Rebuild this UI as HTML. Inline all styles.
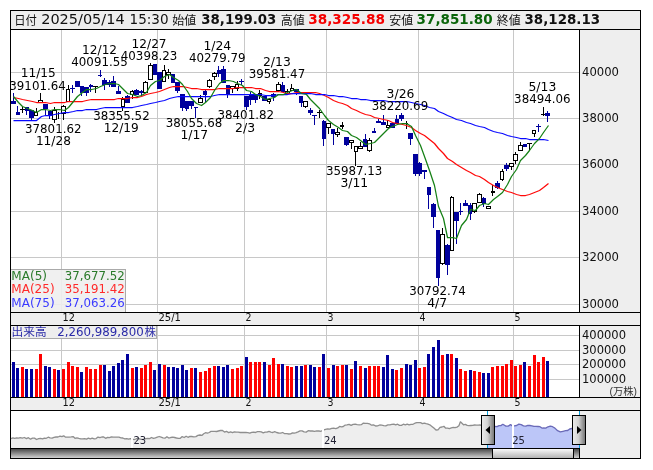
<!DOCTYPE html>
<html lang="ja"><head><meta charset="utf-8"><title>日経平均 チャート</title>
<style>html,body{margin:0;padding:0;background:#fff}svg text{white-space:pre}</style></head>
<body>
<svg width="653" height="470" viewBox="0 0 653 470" style="display:block;font-family:'DejaVu Sans','Liberation Sans','Noto Sans CJK JP',sans-serif">
<defs>
<linearGradient id="gh" x1="0" x2="1" y1="0" y2="0"><stop offset="0" stop-color="#ececec"/><stop offset="0.45" stop-color="#d4d4d4"/><stop offset="1" stop-color="#707070"/></linearGradient>
<linearGradient id="gt" x1="0" x2="0" y1="0" y2="1"><stop offset="0" stop-color="#3a3a3a"/><stop offset="1" stop-color="#d2d2d2"/></linearGradient>
<linearGradient id="gb" x1="0" x2="0" y1="0" y2="1"><stop offset="0" stop-color="#fdfdfd"/><stop offset="1" stop-color="#b0b0b0"/></linearGradient>
<clipPath id="cm"><rect x="11" y="30" width="568" height="282"/></clipPath>
</defs>
<rect width="653" height="470" fill="#fff"/>
<g shape-rendering="crispEdges">
<rect x="11" y="11" width="629" height="18" fill="#eee"/>
<rect x="580" y="30" width="60" height="428" fill="#eee"/>
<rect x="11" y="313" width="629" height="12" fill="#eee"/>
<rect x="11" y="398" width="629" height="12" fill="#eee"/>
<rect x="11" y="72" width="568" height="1" fill="#c8c8c8"/>
<rect x="11" y="118" width="568" height="1" fill="#c8c8c8"/>
<rect x="11" y="164" width="568" height="1" fill="#c8c8c8"/>
<rect x="11" y="211" width="568" height="1" fill="#c8c8c8"/>
<rect x="11" y="257" width="568" height="1" fill="#c8c8c8"/>
<rect x="11" y="304" width="568" height="1" fill="#c8c8c8"/>
<rect x="61" y="30" width="1" height="282" fill="#c8c8c8"/>
<rect x="61" y="326" width="1" height="71" fill="#c8c8c8"/>
<rect x="157" y="30" width="1" height="282" fill="#c8c8c8"/>
<rect x="157" y="326" width="1" height="71" fill="#c8c8c8"/>
<rect x="244" y="30" width="1" height="282" fill="#c8c8c8"/>
<rect x="244" y="326" width="1" height="71" fill="#c8c8c8"/>
<rect x="326" y="30" width="1" height="282" fill="#c8c8c8"/>
<rect x="326" y="326" width="1" height="71" fill="#c8c8c8"/>
<rect x="418" y="30" width="1" height="282" fill="#c8c8c8"/>
<rect x="418" y="326" width="1" height="71" fill="#c8c8c8"/>
<rect x="513" y="30" width="1" height="282" fill="#c8c8c8"/>
<rect x="513" y="326" width="1" height="71" fill="#c8c8c8"/>
<rect x="11" y="335" width="568" height="1" fill="#c8c8c8"/>
<rect x="11" y="350" width="568" height="1" fill="#c8c8c8"/>
<rect x="11" y="364" width="568" height="1" fill="#c8c8c8"/>
<rect x="11" y="379" width="568" height="1" fill="#c8c8c8"/>
</g>
<g clip-path="url(#cm)">
<g shape-rendering="crispEdges">
<rect x="13" y="93" width="1" height="11" fill="#00009c"/>
<rect x="11" y="101" width="5" height="3" fill="#00009c"/>
<rect x="17" y="106" width="1" height="9" fill="#00009c"/>
<rect x="16" y="112" width="4" height="3" fill="#00009c"/>
<rect x="22" y="107" width="1" height="6" fill="#000"/>
<rect x="20" y="109" width="5" height="1" fill="#000"/>
<rect x="26" y="107" width="1" height="8" fill="#00009c"/>
<rect x="25" y="107" width="4" height="4" fill="#00009c"/>
<rect x="31" y="110" width="1" height="10" fill="#00009c"/>
<rect x="29" y="110" width="5" height="8" fill="#00009c"/>
<rect x="36" y="108" width="1" height="8" fill="#000"/>
<rect x="34" y="112" width="4" height="4" fill="#000"/>
<rect x="35" y="113" width="2" height="2" fill="#fff"/>
<rect x="40" y="93" width="1" height="10" fill="#000"/>
<rect x="38" y="100" width="5" height="3" fill="#000"/>
<rect x="39" y="101" width="3" height="1" fill="#fff"/>
<rect x="45" y="104" width="1" height="12" fill="#00009c"/>
<rect x="43" y="104" width="5" height="5" fill="#00009c"/>
<rect x="49" y="111" width="1" height="8" fill="#00009c"/>
<rect x="48" y="111" width="4" height="5" fill="#00009c"/>
<rect x="54" y="107" width="1" height="16" fill="#000"/>
<rect x="52" y="110" width="5" height="10" fill="#000"/>
<rect x="53" y="111" width="3" height="8" fill="#fff"/>
<rect x="58" y="112" width="1" height="7" fill="#000"/>
<rect x="63" y="105" width="1" height="15" fill="#000"/>
<rect x="61" y="106" width="5" height="8" fill="#000"/>
<rect x="62" y="107" width="3" height="6" fill="#fff"/>
<rect x="68" y="85" width="1" height="17" fill="#000"/>
<rect x="66" y="89" width="4" height="13" fill="#000"/>
<rect x="67" y="90" width="2" height="11" fill="#fff"/>
<rect x="72" y="85" width="1" height="8" fill="#00009c"/>
<rect x="70" y="88" width="5" height="1" fill="#00009c"/>
<rect x="77" y="81" width="1" height="6" fill="#00009c"/>
<rect x="75" y="81" width="5" height="6" fill="#00009c"/>
<rect x="81" y="86" width="1" height="10" fill="#00009c"/>
<rect x="80" y="86" width="4" height="7" fill="#00009c"/>
<rect x="86" y="87" width="1" height="9" fill="#00009c"/>
<rect x="84" y="87" width="5" height="6" fill="#00009c"/>
<rect x="90" y="84" width="1" height="8" fill="#00009c"/>
<rect x="89" y="85" width="4" height="2" fill="#00009c"/>
<rect x="95" y="86" width="1" height="7" fill="#000"/>
<rect x="93" y="86" width="5" height="1" fill="#000"/>
<rect x="100" y="70" width="1" height="7" fill="#00009c"/>
<rect x="98" y="75" width="4" height="1" fill="#00009c"/>
<rect x="104" y="78" width="1" height="12" fill="#00009c"/>
<rect x="102" y="80" width="5" height="5" fill="#00009c"/>
<rect x="109" y="80" width="1" height="7" fill="#00009c"/>
<rect x="107" y="82" width="5" height="3" fill="#00009c"/>
<rect x="113" y="76" width="1" height="11" fill="#00009c"/>
<rect x="111" y="81" width="5" height="6" fill="#00009c"/>
<rect x="118" y="86" width="1" height="8" fill="#00009c"/>
<rect x="116" y="91" width="5" height="3" fill="#00009c"/>
<rect x="122" y="97" width="1" height="14" fill="#000"/>
<rect x="121" y="99" width="4" height="8" fill="#000"/>
<rect x="122" y="100" width="2" height="6" fill="#fff"/>
<rect x="127" y="95" width="1" height="8" fill="#00009c"/>
<rect x="125" y="96" width="5" height="7" fill="#00009c"/>
<rect x="132" y="90" width="1" height="9" fill="#000"/>
<rect x="130" y="91" width="4" height="4" fill="#000"/>
<rect x="131" y="92" width="2" height="2" fill="#fff"/>
<rect x="136" y="89" width="1" height="6" fill="#00009c"/>
<rect x="134" y="90" width="5" height="5" fill="#00009c"/>
<rect x="141" y="90" width="1" height="6" fill="#00009c"/>
<rect x="139" y="91" width="5" height="2" fill="#00009c"/>
<rect x="145" y="81" width="1" height="12" fill="#000"/>
<rect x="143" y="82" width="5" height="11" fill="#000"/>
<rect x="144" y="83" width="3" height="9" fill="#fff"/>
<rect x="150" y="63" width="1" height="17" fill="#000"/>
<rect x="148" y="65" width="5" height="15" fill="#000"/>
<rect x="149" y="66" width="3" height="13" fill="#fff"/>
<rect x="154" y="64" width="1" height="11" fill="#00009c"/>
<rect x="153" y="64" width="4" height="11" fill="#00009c"/>
<rect x="159" y="72" width="1" height="17" fill="#00009c"/>
<rect x="157" y="72" width="5" height="17" fill="#00009c"/>
<rect x="164" y="65" width="1" height="17" fill="#000"/>
<rect x="162" y="70" width="4" height="12" fill="#000"/>
<rect x="163" y="71" width="2" height="10" fill="#fff"/>
<rect x="168" y="69" width="1" height="10" fill="#000"/>
<rect x="166" y="72" width="5" height="3" fill="#000"/>
<rect x="167" y="73" width="3" height="1" fill="#fff"/>
<rect x="173" y="74" width="1" height="9" fill="#00009c"/>
<rect x="171" y="74" width="4" height="9" fill="#00009c"/>
<rect x="177" y="82" width="1" height="11" fill="#00009c"/>
<rect x="175" y="82" width="5" height="9" fill="#00009c"/>
<rect x="182" y="94" width="1" height="17" fill="#00009c"/>
<rect x="180" y="94" width="5" height="14" fill="#00009c"/>
<rect x="186" y="101" width="1" height="10" fill="#00009c"/>
<rect x="185" y="101" width="4" height="8" fill="#00009c"/>
<rect x="191" y="101" width="1" height="8" fill="#00009c"/>
<rect x="189" y="101" width="5" height="5" fill="#00009c"/>
<rect x="195" y="107" width="1" height="11" fill="#00009c"/>
<rect x="194" y="107" width="4" height="1" fill="#00009c"/>
<rect x="200" y="95" width="1" height="8" fill="#000"/>
<rect x="198" y="98" width="5" height="5" fill="#000"/>
<rect x="199" y="99" width="3" height="3" fill="#fff"/>
<rect x="205" y="89" width="1" height="13" fill="#00009c"/>
<rect x="203" y="91" width="4" height="4" fill="#00009c"/>
<rect x="209" y="79" width="1" height="9" fill="#000"/>
<rect x="207" y="80" width="5" height="7" fill="#000"/>
<rect x="208" y="81" width="3" height="5" fill="#fff"/>
<rect x="214" y="72" width="1" height="8" fill="#000"/>
<rect x="212" y="73" width="5" height="4" fill="#000"/>
<rect x="213" y="74" width="3" height="2" fill="#fff"/>
<rect x="218" y="66" width="1" height="11" fill="#00009c"/>
<rect x="217" y="70" width="4" height="4" fill="#00009c"/>
<rect x="223" y="66" width="1" height="17" fill="#00009c"/>
<rect x="221" y="69" width="5" height="14" fill="#00009c"/>
<rect x="227" y="85" width="1" height="13" fill="#00009c"/>
<rect x="226" y="85" width="4" height="10" fill="#00009c"/>
<rect x="232" y="86" width="1" height="7" fill="#000"/>
<rect x="230" y="86" width="5" height="3" fill="#000"/>
<rect x="231" y="87" width="3" height="1" fill="#fff"/>
<rect x="237" y="81" width="1" height="10" fill="#000"/>
<rect x="235" y="84" width="4" height="5" fill="#000"/>
<rect x="236" y="85" width="2" height="3" fill="#fff"/>
<rect x="241" y="79" width="1" height="6" fill="#00009c"/>
<rect x="239" y="81" width="5" height="1" fill="#00009c"/>
<rect x="246" y="96" width="1" height="14" fill="#00009c"/>
<rect x="244" y="96" width="5" height="11" fill="#00009c"/>
<rect x="250" y="92" width="1" height="13" fill="#00009c"/>
<rect x="249" y="94" width="4" height="6" fill="#00009c"/>
<rect x="255" y="95" width="1" height="8" fill="#00009c"/>
<rect x="253" y="95" width="5" height="5" fill="#00009c"/>
<rect x="259" y="90" width="1" height="9" fill="#000"/>
<rect x="258" y="93" width="4" height="3" fill="#000"/>
<rect x="259" y="94" width="2" height="1" fill="#fff"/>
<rect x="264" y="96" width="1" height="5" fill="#00009c"/>
<rect x="262" y="96" width="5" height="5" fill="#00009c"/>
<rect x="269" y="98" width="1" height="6" fill="#000"/>
<rect x="267" y="99" width="4" height="3" fill="#000"/>
<rect x="268" y="100" width="2" height="1" fill="#fff"/>
<rect x="273" y="93" width="1" height="8" fill="#00009c"/>
<rect x="271" y="94" width="5" height="3" fill="#00009c"/>
<rect x="278" y="82" width="1" height="9" fill="#000"/>
<rect x="276" y="84" width="5" height="7" fill="#000"/>
<rect x="277" y="85" width="3" height="5" fill="#fff"/>
<rect x="282" y="82" width="1" height="10" fill="#00009c"/>
<rect x="281" y="85" width="4" height="7" fill="#00009c"/>
<rect x="287" y="89" width="1" height="5" fill="#000"/>
<rect x="285" y="91" width="5" height="3" fill="#000"/>
<rect x="286" y="92" width="3" height="1" fill="#fff"/>
<rect x="291" y="84" width="1" height="7" fill="#000"/>
<rect x="290" y="88" width="4" height="3" fill="#000"/>
<rect x="291" y="89" width="2" height="1" fill="#fff"/>
<rect x="296" y="89" width="1" height="6" fill="#00009c"/>
<rect x="294" y="89" width="5" height="3" fill="#00009c"/>
<rect x="301" y="96" width="1" height="11" fill="#00009c"/>
<rect x="299" y="96" width="4" height="7" fill="#00009c"/>
<rect x="305" y="101" width="1" height="7" fill="#000"/>
<rect x="303" y="101" width="5" height="6" fill="#000"/>
<rect x="304" y="102" width="3" height="4" fill="#fff"/>
<rect x="310" y="108" width="1" height="7" fill="#00009c"/>
<rect x="308" y="110" width="5" height="3" fill="#00009c"/>
<rect x="314" y="115" width="1" height="10" fill="#00009c"/>
<rect x="312" y="115" width="5" height="1" fill="#00009c"/>
<rect x="319" y="110" width="1" height="8" fill="#000"/>
<rect x="317" y="112" width="5" height="1" fill="#000"/>
<rect x="323" y="120" width="1" height="26" fill="#00009c"/>
<rect x="322" y="121" width="4" height="18" fill="#00009c"/>
<rect x="328" y="123" width="1" height="11" fill="#000"/>
<rect x="326" y="123" width="5" height="5" fill="#000"/>
<rect x="327" y="124" width="3" height="3" fill="#fff"/>
<rect x="333" y="129" width="1" height="16" fill="#00009c"/>
<rect x="331" y="129" width="4" height="5" fill="#00009c"/>
<rect x="337" y="128" width="1" height="9" fill="#000"/>
<rect x="335" y="132" width="5" height="3" fill="#000"/>
<rect x="336" y="133" width="3" height="1" fill="#fff"/>
<rect x="342" y="122" width="1" height="7" fill="#000"/>
<rect x="340" y="125" width="4" height="2" fill="#000"/>
<rect x="346" y="137" width="1" height="9" fill="#00009c"/>
<rect x="344" y="137" width="5" height="8" fill="#00009c"/>
<rect x="351" y="140" width="1" height="9" fill="#000"/>
<rect x="349" y="140" width="5" height="3" fill="#000"/>
<rect x="350" y="141" width="3" height="1" fill="#fff"/>
<rect x="355" y="146" width="1" height="20" fill="#000"/>
<rect x="354" y="146" width="4" height="6" fill="#000"/>
<rect x="355" y="147" width="2" height="4" fill="#fff"/>
<rect x="360" y="142" width="1" height="7" fill="#000"/>
<rect x="358" y="146" width="5" height="3" fill="#000"/>
<rect x="359" y="147" width="3" height="1" fill="#fff"/>
<rect x="365" y="134" width="1" height="13" fill="#00009c"/>
<rect x="363" y="139" width="4" height="8" fill="#00009c"/>
<rect x="369" y="138" width="1" height="14" fill="#000"/>
<rect x="367" y="140" width="5" height="11" fill="#000"/>
<rect x="368" y="141" width="3" height="9" fill="#fff"/>
<rect x="374" y="128" width="1" height="5" fill="#00009c"/>
<rect x="372" y="131" width="4" height="2" fill="#00009c"/>
<rect x="378" y="119" width="1" height="4" fill="#00009c"/>
<rect x="376" y="121" width="5" height="2" fill="#00009c"/>
<rect x="383" y="115" width="1" height="10" fill="#00009c"/>
<rect x="381" y="122" width="5" height="3" fill="#00009c"/>
<rect x="387" y="120" width="1" height="8" fill="#000"/>
<rect x="386" y="125" width="4" height="3" fill="#000"/>
<rect x="387" y="126" width="2" height="1" fill="#fff"/>
<rect x="392" y="123" width="1" height="5" fill="#00009c"/>
<rect x="390" y="123" width="5" height="5" fill="#00009c"/>
<rect x="396" y="115" width="1" height="9" fill="#00009c"/>
<rect x="395" y="119" width="4" height="5" fill="#00009c"/>
<rect x="401" y="113" width="1" height="8" fill="#00009c"/>
<rect x="399" y="115" width="5" height="4" fill="#00009c"/>
<rect x="406" y="121" width="1" height="8" fill="#000"/>
<rect x="404" y="123" width="4" height="1" fill="#000"/>
<rect x="410" y="133" width="1" height="12" fill="#00009c"/>
<rect x="408" y="133" width="5" height="6" fill="#00009c"/>
<rect x="415" y="154" width="1" height="22" fill="#00009c"/>
<rect x="413" y="154" width="5" height="20" fill="#00009c"/>
<rect x="419" y="162" width="1" height="14" fill="#00009c"/>
<rect x="418" y="163" width="4" height="11" fill="#00009c"/>
<rect x="424" y="170" width="1" height="9" fill="#00009c"/>
<rect x="422" y="170" width="5" height="2" fill="#00009c"/>
<rect x="428" y="187" width="1" height="22" fill="#00009c"/>
<rect x="427" y="187" width="4" height="8" fill="#00009c"/>
<rect x="433" y="203" width="1" height="25" fill="#00009c"/>
<rect x="431" y="204" width="5" height="13" fill="#00009c"/>
<rect x="438" y="230" width="1" height="56" fill="#00009c"/>
<rect x="436" y="230" width="4" height="48" fill="#00009c"/>
<rect x="442" y="228" width="1" height="37" fill="#000"/>
<rect x="440" y="234" width="5" height="30" fill="#000"/>
<rect x="441" y="235" width="3" height="28" fill="#fff"/>
<rect x="447" y="244" width="1" height="31" fill="#00009c"/>
<rect x="445" y="245" width="5" height="20" fill="#00009c"/>
<rect x="451" y="196" width="1" height="55" fill="#000"/>
<rect x="450" y="197" width="4" height="54" fill="#000"/>
<rect x="451" y="198" width="2" height="52" fill="#fff"/>
<rect x="456" y="212" width="1" height="32" fill="#00009c"/>
<rect x="454" y="212" width="5" height="9" fill="#00009c"/>
<rect x="460" y="203" width="1" height="12" fill="#00009c"/>
<rect x="459" y="211" width="4" height="1" fill="#00009c"/>
<rect x="465" y="200" width="1" height="6" fill="#00009c"/>
<rect x="463" y="203" width="5" height="3" fill="#00009c"/>
<rect x="470" y="203" width="1" height="17" fill="#00009c"/>
<rect x="468" y="205" width="4" height="9" fill="#00009c"/>
<rect x="474" y="203" width="1" height="10" fill="#000"/>
<rect x="472" y="203" width="5" height="9" fill="#000"/>
<rect x="473" y="204" width="3" height="7" fill="#fff"/>
<rect x="479" y="193" width="1" height="10" fill="#000"/>
<rect x="477" y="194" width="5" height="9" fill="#000"/>
<rect x="478" y="195" width="3" height="7" fill="#fff"/>
<rect x="483" y="197" width="1" height="10" fill="#00009c"/>
<rect x="482" y="198" width="4" height="6" fill="#00009c"/>
<rect x="488" y="206" width="1" height="3" fill="#000"/>
<rect x="486" y="206" width="5" height="3" fill="#000"/>
<rect x="487" y="207" width="3" height="1" fill="#fff"/>
<rect x="492" y="185" width="1" height="11" fill="#000"/>
<rect x="491" y="191" width="4" height="2" fill="#000"/>
<rect x="497" y="181" width="1" height="8" fill="#00009c"/>
<rect x="495" y="183" width="5" height="5" fill="#00009c"/>
<rect x="502" y="169" width="1" height="12" fill="#000"/>
<rect x="500" y="171" width="4" height="9" fill="#000"/>
<rect x="501" y="172" width="2" height="7" fill="#fff"/>
<rect x="506" y="163" width="1" height="8" fill="#00009c"/>
<rect x="504" y="165" width="5" height="4" fill="#00009c"/>
<rect x="511" y="163" width="1" height="7" fill="#000"/>
<rect x="509" y="163" width="5" height="4" fill="#000"/>
<rect x="510" y="164" width="3" height="2" fill="#fff"/>
<rect x="515" y="152" width="1" height="12" fill="#000"/>
<rect x="513" y="154" width="5" height="7" fill="#000"/>
<rect x="514" y="155" width="3" height="5" fill="#fff"/>
<rect x="520" y="142" width="1" height="9" fill="#000"/>
<rect x="518" y="145" width="5" height="6" fill="#000"/>
<rect x="519" y="146" width="3" height="4" fill="#fff"/>
<rect x="524" y="144" width="1" height="3" fill="#00009c"/>
<rect x="523" y="144" width="4" height="3" fill="#00009c"/>
<rect x="529" y="143" width="1" height="8" fill="#000"/>
<rect x="527" y="143" width="5" height="1" fill="#000"/>
<rect x="534" y="130" width="1" height="7" fill="#000"/>
<rect x="532" y="130" width="4" height="4" fill="#000"/>
<rect x="533" y="131" width="2" height="2" fill="#fff"/>
<rect x="538" y="124" width="1" height="8" fill="#00009c"/>
<rect x="536" y="126" width="5" height="1" fill="#00009c"/>
<rect x="543" y="107" width="1" height="9" fill="#000"/>
<rect x="541" y="114" width="4" height="1" fill="#000"/>
<rect x="547" y="111" width="1" height="11" fill="#00009c"/>
<rect x="545" y="113" width="5" height="3" fill="#00009c"/>
</g>
<polyline points="13.5,97.5 18.5,98.5 22.5,99.5 27.5,100.5 32.5,101.5 36.5,102.5 41.5,102.5 45.5,102.5 50.5,103.5 54.5,102.5 59.5,102.5 64.5,102.5 68.5,101.5 73.5,101.5 77.5,101.5 82.5,101.5 86.5,100.5 91.5,99.5 96.5,99.5 100.5,99.5 105.5,99.5 109.5,99.5 114.5,99.5 118.5,98.5 123.5,98.5 127.5,98.5 132.5,97.5 137.5,97.5 141.5,96.5 146.5,94.5 150.5,93.5 155.5,92.5 159.5,91.5 164.5,89.5 169.5,87.5 173.5,86.5 178.5,86.5 182.5,86.5 187.5,87.5 191.5,88.5 196.5,88.5 201.5,89.5 205.5,89.5 210.5,89.5 214.5,89.5 219.5,88.5 223.5,88.5 228.5,88.5 233.5,88.5 237.5,87.5 242.5,87.5 246.5,87.5 251.5,87.5 255.5,88.5 260.5,88.5 265.5,90.5 269.5,91.5 274.5,91.5 278.5,91.5 283.5,92.5 287.5,93.5 292.5,93.5 296.5,92.5 301.5,92.5 306.5,92.5 310.5,92.5 315.5,92.5 319.5,93.5 324.5,95.5 328.5,97.5 333.5,100.5 338.5,102.5 342.5,103.5 347.5,105.5 351.5,108.5 356.5,110.5 360.5,112.5 365.5,114.5 370.5,115.5 374.5,117.5 379.5,118.5 383.5,119.5 388.5,120.5 392.5,122.5 397.5,123.5 402.5,124.5 406.5,125.5 411.5,127.5 415.5,130.5 420.5,133.5 424.5,135.5 429.5,139.5 434.5,143.5 438.5,148.5 443.5,153.5 447.5,158.5 452.5,161.5 456.5,164.5 461.5,167.5 466.5,170.5 470.5,172.5 475.5,175.5 479.5,176.5 484.5,179.5 488.5,182.5 493.5,185.5 497.5,187.5 502.5,189.5 507.5,191.5 511.5,192.5 516.5,194.5 520.5,195.5 525.5,195.5 529.5,194.5 534.5,192.5 539.5,190.5 543.5,187.5 548.5,183.5" fill="none" stroke="#ff0808" stroke-width="1.25" stroke-linejoin="round"/>
<polyline points="13.5,120.5 18.5,120.5 22.5,120.5 27.5,120.5 32.5,120.5 36.5,120.5 41.5,116.5 45.5,115.5 50.5,115.5 54.5,114.5 59.5,113.5 64.5,112.5 68.5,112.5 73.5,111.5 77.5,110.5 82.5,110.5 86.5,109.5 91.5,109.5 96.5,109.5 100.5,108.5 105.5,107.5 109.5,107.5 114.5,107.5 118.5,107.5 123.5,107.5 127.5,107.5 132.5,107.5 137.5,106.5 141.5,105.5 146.5,104.5 150.5,103.5 155.5,102.5 159.5,101.5 164.5,100.5 169.5,98.5 173.5,97.5 178.5,96.5 182.5,96.5 187.5,96.5 191.5,96.5 196.5,96.5 201.5,96.5 205.5,96.5 210.5,96.5 214.5,95.5 219.5,94.5 223.5,94.5 228.5,94.5 233.5,94.5 237.5,94.5 242.5,94.5 246.5,94.5 251.5,94.5 255.5,94.5 260.5,94.5 265.5,95.5 269.5,95.5 274.5,95.5 278.5,94.5 283.5,94.5 287.5,94.5 292.5,93.5 297.5,93.5 301.5,93.5 306.5,93.5 310.5,93.5 315.5,94.5 319.5,94.5 324.5,94.5 328.5,95.5 333.5,95.5 338.5,96.5 342.5,96.5 347.5,97.5 351.5,98.5 356.5,98.5 360.5,99.5 365.5,99.5 370.5,100.5 374.5,100.5 379.5,100.5 383.5,100.5 388.5,101.5 392.5,101.5 397.5,101.5 402.5,101.5 406.5,101.5 411.5,102.5 415.5,103.5 420.5,104.5 424.5,105.5 429.5,107.5 434.5,108.5 438.5,111.5 443.5,113.5 447.5,115.5 452.5,117.5 456.5,119.5 461.5,120.5 466.5,122.5 470.5,123.5 475.5,125.5 479.5,126.5 484.5,127.5 488.5,129.5 493.5,131.5 497.5,132.5 502.5,133.5 507.5,135.5 511.5,136.5 516.5,137.5 520.5,138.5 525.5,138.5 529.5,139.5 534.5,139.5 539.5,139.5 543.5,139.5 548.5,140.5" fill="none" stroke="#0808ff" stroke-width="1.25" stroke-linejoin="round"/>
<polyline points="13.5,96.5 18.5,102.5 22.5,106.5 27.5,108.5 32.5,110.5 36.5,112.5 41.5,109.5 45.5,109.5 50.5,110.5 54.5,109.5 59.5,109.5 64.5,110.5 68.5,107.5 73.5,101.5 77.5,96.5 82.5,92.5 86.5,89.5 91.5,89.5 96.5,88.5 100.5,86.5 105.5,84.5 109.5,83.5 114.5,83.5 118.5,84.5 123.5,89.5 127.5,93.5 132.5,94.5 137.5,96.5 141.5,95.5 146.5,92.5 150.5,85.5 155.5,81.5 159.5,80.5 164.5,76.5 169.5,74.5 173.5,77.5 178.5,80.5 182.5,84.5 187.5,91.5 191.5,98.5 196.5,103.5 201.5,105.5 205.5,102.5 210.5,97.5 214.5,90.5 219.5,83.5 223.5,80.5 228.5,80.5 233.5,81.5 237.5,83.5 242.5,85.5 246.5,90.5 251.5,91.5 255.5,94.5 260.5,96.5 265.5,99.5 269.5,98.5 274.5,97.5 278.5,94.5 283.5,94.5 287.5,92.5 292.5,90.5 296.5,89.5 301.5,93.5 306.5,94.5 310.5,99.5 315.5,104.5 319.5,108.5 324.5,115.5 328.5,120.5 333.5,124.5 338.5,127.5 342.5,130.5 347.5,131.5 351.5,135.5 356.5,137.5 360.5,140.5 365.5,144.5 370.5,143.5 374.5,142.5 379.5,137.5 383.5,133.5 388.5,128.5 392.5,126.5 397.5,124.5 402.5,123.5 406.5,123.5 411.5,126.5 415.5,135.5 420.5,145.5 424.5,156.5 429.5,170.5 434.5,185.5 438.5,206.5 443.5,218.5 447.5,237.5 452.5,237.5 456.5,238.5 461.5,225.5 466.5,219.5 470.5,209.5 475.5,210.5 479.5,205.5 484.5,203.5 488.5,204.5 493.5,199.5 497.5,196.5 502.5,192.5 507.5,184.5 511.5,176.5 516.5,169.5 520.5,160.5 525.5,155.5 529.5,150.5 534.5,143.5 539.5,138.5 543.5,132.5 548.5,125.5" fill="none" stroke="#158015" stroke-width="1.25" stroke-linejoin="round"/>
</g>
<g shape-rendering="crispEdges">
<rect x="12" y="362" width="3" height="35" fill="#00009c"/>
<rect x="16" y="368" width="3" height="29" fill="#00009c"/>
<rect x="21" y="367" width="3" height="30" fill="#ff0000"/>
<rect x="25" y="369" width="3" height="28" fill="#00009c"/>
<rect x="30" y="369" width="3" height="28" fill="#00009c"/>
<rect x="35" y="369" width="3" height="28" fill="#ff0000"/>
<rect x="39" y="354" width="3" height="43" fill="#ff0000"/>
<rect x="44" y="366" width="3" height="31" fill="#00009c"/>
<rect x="48" y="367" width="3" height="30" fill="#00009c"/>
<rect x="53" y="369" width="3" height="28" fill="#ff0000"/>
<rect x="57" y="370" width="3" height="27" fill="#00009c"/>
<rect x="62" y="369" width="3" height="28" fill="#ff0000"/>
<rect x="67" y="362" width="3" height="35" fill="#ff0000"/>
<rect x="71" y="366" width="3" height="31" fill="#ff0000"/>
<rect x="76" y="367" width="3" height="30" fill="#ff0000"/>
<rect x="80" y="372" width="3" height="25" fill="#00009c"/>
<rect x="85" y="367" width="3" height="30" fill="#ff0000"/>
<rect x="89" y="369" width="3" height="28" fill="#ff0000"/>
<rect x="94" y="369" width="3" height="28" fill="#ff0000"/>
<rect x="99" y="365" width="3" height="32" fill="#ff0000"/>
<rect x="103" y="365" width="3" height="32" fill="#00009c"/>
<rect x="108" y="371" width="3" height="26" fill="#00009c"/>
<rect x="112" y="366" width="3" height="31" fill="#00009c"/>
<rect x="117" y="363" width="3" height="34" fill="#00009c"/>
<rect x="121" y="360" width="3" height="37" fill="#00009c"/>
<rect x="126" y="354" width="3" height="43" fill="#00009c"/>
<rect x="131" y="368" width="3" height="29" fill="#ff0000"/>
<rect x="135" y="367" width="3" height="30" fill="#00009c"/>
<rect x="140" y="368" width="3" height="29" fill="#ff0000"/>
<rect x="144" y="365" width="3" height="32" fill="#ff0000"/>
<rect x="149" y="362" width="3" height="35" fill="#ff0000"/>
<rect x="153" y="370" width="3" height="27" fill="#00009c"/>
<rect x="158" y="364" width="3" height="33" fill="#00009c"/>
<rect x="163" y="365" width="3" height="32" fill="#ff0000"/>
<rect x="167" y="367" width="3" height="30" fill="#00009c"/>
<rect x="172" y="367" width="3" height="30" fill="#00009c"/>
<rect x="176" y="368" width="3" height="29" fill="#00009c"/>
<rect x="181" y="365" width="3" height="32" fill="#00009c"/>
<rect x="185" y="370" width="3" height="27" fill="#00009c"/>
<rect x="190" y="368" width="3" height="29" fill="#ff0000"/>
<rect x="194" y="368" width="3" height="29" fill="#00009c"/>
<rect x="199" y="372" width="3" height="25" fill="#ff0000"/>
<rect x="204" y="371" width="3" height="26" fill="#ff0000"/>
<rect x="208" y="368" width="3" height="29" fill="#ff0000"/>
<rect x="213" y="366" width="3" height="31" fill="#ff0000"/>
<rect x="217" y="366" width="3" height="31" fill="#00009c"/>
<rect x="222" y="367" width="3" height="30" fill="#00009c"/>
<rect x="226" y="365" width="3" height="32" fill="#00009c"/>
<rect x="231" y="369" width="3" height="28" fill="#ff0000"/>
<rect x="236" y="368" width="3" height="29" fill="#ff0000"/>
<rect x="240" y="366" width="3" height="31" fill="#ff0000"/>
<rect x="245" y="357" width="3" height="40" fill="#00009c"/>
<rect x="249" y="362" width="3" height="35" fill="#ff0000"/>
<rect x="254" y="362" width="3" height="35" fill="#ff0000"/>
<rect x="258" y="362" width="3" height="35" fill="#ff0000"/>
<rect x="263" y="362" width="3" height="35" fill="#00009c"/>
<rect x="268" y="365" width="3" height="32" fill="#ff0000"/>
<rect x="272" y="358" width="3" height="39" fill="#ff0000"/>
<rect x="277" y="364" width="3" height="33" fill="#ff0000"/>
<rect x="281" y="364" width="3" height="33" fill="#00009c"/>
<rect x="286" y="366" width="3" height="31" fill="#ff0000"/>
<rect x="290" y="367" width="3" height="30" fill="#ff0000"/>
<rect x="295" y="366" width="3" height="31" fill="#00009c"/>
<rect x="300" y="366" width="3" height="31" fill="#00009c"/>
<rect x="304" y="365" width="3" height="32" fill="#ff0000"/>
<rect x="309" y="365" width="3" height="32" fill="#00009c"/>
<rect x="313" y="367" width="3" height="30" fill="#00009c"/>
<rect x="318" y="367" width="3" height="30" fill="#ff0000"/>
<rect x="322" y="354" width="3" height="43" fill="#00009c"/>
<rect x="327" y="368" width="3" height="29" fill="#ff0000"/>
<rect x="332" y="365" width="3" height="32" fill="#00009c"/>
<rect x="336" y="366" width="3" height="31" fill="#ff0000"/>
<rect x="341" y="365" width="3" height="32" fill="#ff0000"/>
<rect x="345" y="365" width="3" height="32" fill="#00009c"/>
<rect x="350" y="369" width="3" height="28" fill="#ff0000"/>
<rect x="354" y="361" width="3" height="36" fill="#00009c"/>
<rect x="359" y="366" width="3" height="31" fill="#ff0000"/>
<rect x="364" y="368" width="3" height="29" fill="#00009c"/>
<rect x="368" y="366" width="3" height="31" fill="#ff0000"/>
<rect x="373" y="366" width="3" height="31" fill="#ff0000"/>
<rect x="377" y="366" width="3" height="31" fill="#ff0000"/>
<rect x="382" y="367" width="3" height="30" fill="#00009c"/>
<rect x="386" y="355" width="3" height="42" fill="#00009c"/>
<rect x="391" y="369" width="3" height="28" fill="#00009c"/>
<rect x="395" y="370" width="3" height="27" fill="#ff0000"/>
<rect x="400" y="368" width="3" height="29" fill="#ff0000"/>
<rect x="405" y="364" width="3" height="33" fill="#00009c"/>
<rect x="409" y="365" width="3" height="32" fill="#00009c"/>
<rect x="414" y="360" width="3" height="37" fill="#00009c"/>
<rect x="418" y="368" width="3" height="29" fill="#ff0000"/>
<rect x="423" y="367" width="3" height="30" fill="#ff0000"/>
<rect x="427" y="354" width="3" height="43" fill="#00009c"/>
<rect x="432" y="347" width="3" height="50" fill="#00009c"/>
<rect x="437" y="340" width="3" height="57" fill="#00009c"/>
<rect x="441" y="355" width="3" height="42" fill="#ff0000"/>
<rect x="446" y="354" width="3" height="43" fill="#00009c"/>
<rect x="450" y="354" width="3" height="43" fill="#ff0000"/>
<rect x="455" y="358" width="3" height="39" fill="#00009c"/>
<rect x="459" y="369" width="3" height="28" fill="#ff0000"/>
<rect x="464" y="371" width="3" height="26" fill="#ff0000"/>
<rect x="469" y="370" width="3" height="27" fill="#00009c"/>
<rect x="473" y="371" width="3" height="26" fill="#ff0000"/>
<rect x="478" y="372" width="3" height="25" fill="#ff0000"/>
<rect x="482" y="373" width="3" height="24" fill="#00009c"/>
<rect x="487" y="373" width="3" height="24" fill="#00009c"/>
<rect x="491" y="367" width="3" height="30" fill="#ff0000"/>
<rect x="496" y="366" width="3" height="31" fill="#ff0000"/>
<rect x="501" y="366" width="3" height="31" fill="#ff0000"/>
<rect x="505" y="364" width="3" height="33" fill="#ff0000"/>
<rect x="510" y="360" width="3" height="37" fill="#ff0000"/>
<rect x="514" y="366" width="3" height="31" fill="#ff0000"/>
<rect x="519" y="365" width="3" height="32" fill="#ff0000"/>
<rect x="523" y="362" width="3" height="35" fill="#00009c"/>
<rect x="528" y="366" width="3" height="31" fill="#ff0000"/>
<rect x="533" y="355" width="3" height="42" fill="#ff0000"/>
<rect x="537" y="362" width="3" height="35" fill="#ff0000"/>
<rect x="542" y="357" width="3" height="40" fill="#ff0000"/>
<rect x="546" y="361" width="3" height="36" fill="#00009c"/>
</g>
<text x="20.8" y="77.0" font-size="12" textLength="35.0" lengthAdjust="spacingAndGlyphs" fill="#000">11/15</text>
<text x="9.3" y="89.5" font-size="12" textLength="56.5" lengthAdjust="spacingAndGlyphs" fill="#000">39101.64</text>
<text x="82.1" y="54.4" font-size="12" textLength="35.0" lengthAdjust="spacingAndGlyphs" fill="#000">12/12</text>
<text x="71.3" y="66.0" font-size="12" textLength="56.5" lengthAdjust="spacingAndGlyphs" fill="#000">40091.55</text>
<text x="131.6" y="47.5" font-size="12" textLength="35.0" lengthAdjust="spacingAndGlyphs" fill="#000">12/27</text>
<text x="120.8" y="59.5" font-size="12" textLength="56.5" lengthAdjust="spacingAndGlyphs" fill="#000">40398.23</text>
<text x="203.4" y="50.0" font-size="12" textLength="27.8" lengthAdjust="spacingAndGlyphs" fill="#000">1/24</text>
<text x="189.0" y="62.3" font-size="12" textLength="56.5" lengthAdjust="spacingAndGlyphs" fill="#000">40279.79</text>
<text x="263.0" y="65.7" font-size="12" textLength="27.8" lengthAdjust="spacingAndGlyphs" fill="#000">2/13</text>
<text x="248.7" y="77.8" font-size="12" textLength="56.5" lengthAdjust="spacingAndGlyphs" fill="#000">39581.47</text>
<text x="386.6" y="97.8" font-size="12" textLength="27.8" lengthAdjust="spacingAndGlyphs" fill="#000">3/26</text>
<text x="371.7" y="109.8" font-size="12" textLength="56.5" lengthAdjust="spacingAndGlyphs" fill="#000">38220.69</text>
<text x="528.5" y="91.0" font-size="12" textLength="27.8" lengthAdjust="spacingAndGlyphs" fill="#000">5/13</text>
<text x="514.1" y="102.8" font-size="12" textLength="56.5" lengthAdjust="spacingAndGlyphs" fill="#000">38494.06</text>
<text x="25.0" y="133.0" font-size="12" textLength="56.5" lengthAdjust="spacingAndGlyphs" fill="#000">37801.62</text>
<text x="35.9" y="145.0" font-size="12" textLength="35.0" lengthAdjust="spacingAndGlyphs" fill="#000">11/28</text>
<text x="93.2" y="120.0" font-size="12" textLength="56.5" lengthAdjust="spacingAndGlyphs" fill="#000">38355.52</text>
<text x="103.8" y="132.0" font-size="12" textLength="35.0" lengthAdjust="spacingAndGlyphs" fill="#000">12/19</text>
<text x="165.8" y="126.9" font-size="12" textLength="56.5" lengthAdjust="spacingAndGlyphs" fill="#000">38055.68</text>
<text x="180.4" y="138.7" font-size="12" textLength="27.8" lengthAdjust="spacingAndGlyphs" fill="#000">1/17</text>
<text x="217.5" y="119.2" font-size="12" textLength="56.5" lengthAdjust="spacingAndGlyphs" fill="#000">38401.82</text>
<text x="235.1" y="131.5" font-size="12" textLength="20.0" lengthAdjust="spacingAndGlyphs" fill="#000">2/3</text>
<text x="325.9" y="175.3" font-size="12" textLength="56.5" lengthAdjust="spacingAndGlyphs" fill="#000">35987.13</text>
<text x="340.4" y="187.3" font-size="12" textLength="27.8" lengthAdjust="spacingAndGlyphs" fill="#000">3/11</text>
<text x="409.3" y="295.0" font-size="12" textLength="56.5" lengthAdjust="spacingAndGlyphs" fill="#000">30792.74</text>
<text x="427.2" y="307.2" font-size="12" textLength="20.0" lengthAdjust="spacingAndGlyphs" fill="#000">4/7</text>
<g shape-rendering="crispEdges" fill="#000">
<rect x="10" y="10" width="631" height="1"/>
<rect x="10" y="458" width="631" height="1"/>
<rect x="10" y="10" width="1" height="449"/>
<rect x="640" y="10" width="1" height="449"/>
<rect x="10" y="29" width="631" height="1"/>
<rect x="10" y="312" width="631" height="1"/>
<rect x="10" y="325" width="631" height="1"/>
<rect x="10" y="397" width="631" height="1"/>
<rect x="10" y="410" width="631" height="1"/>
<rect x="579" y="29" width="1" height="284"/>
<rect x="579" y="325" width="1" height="73"/>
</g>
<text x="582" y="76.3" font-size="12" textLength="37" lengthAdjust="spacingAndGlyphs" fill="#111">40000</text>
<text x="582" y="122.3" font-size="12" textLength="37" lengthAdjust="spacingAndGlyphs" fill="#111">38000</text>
<text x="582" y="168.3" font-size="12" textLength="37" lengthAdjust="spacingAndGlyphs" fill="#111">36000</text>
<text x="582" y="215.3" font-size="12" textLength="37" lengthAdjust="spacingAndGlyphs" fill="#111">34000</text>
<text x="582" y="261.3" font-size="12" textLength="37" lengthAdjust="spacingAndGlyphs" fill="#111">32000</text>
<text x="582" y="308" font-size="12" textLength="37" lengthAdjust="spacingAndGlyphs" fill="#111">30000</text>
<text x="582" y="339.3" font-size="12" textLength="44" lengthAdjust="spacingAndGlyphs" fill="#111">400000</text>
<text x="582" y="354.3" font-size="12" textLength="44" lengthAdjust="spacingAndGlyphs" fill="#111">300000</text>
<text x="582" y="368.3" font-size="12" textLength="44" lengthAdjust="spacingAndGlyphs" fill="#111">200000</text>
<text x="582" y="383.3" font-size="12" textLength="44" lengthAdjust="spacingAndGlyphs" fill="#111">100000</text>
<text x="609.5" y="394.5" font-size="10.5" textLength="27.5" lengthAdjust="spacingAndGlyphs" style="font-family:'Liberation Sans','Noto Sans CJK JP','IPAGothic',sans-serif" fill="#333">(万株)</text>
<text x="62.5" y="321.3" font-size="10" textLength="12.4" lengthAdjust="spacingAndGlyphs" fill="#111">12</text>
<text x="158.5" y="321.3" font-size="10" textLength="22.4" lengthAdjust="spacingAndGlyphs" fill="#111">25/1</text>
<text x="245.5" y="321.3" font-size="10" textLength="6.0" lengthAdjust="spacingAndGlyphs" fill="#111">2</text>
<text x="327.5" y="321.3" font-size="10" textLength="6.0" lengthAdjust="spacingAndGlyphs" fill="#111">3</text>
<text x="419.5" y="321.3" font-size="10" textLength="6.0" lengthAdjust="spacingAndGlyphs" fill="#111">4</text>
<text x="514.5" y="321.3" font-size="10" textLength="6.0" lengthAdjust="spacingAndGlyphs" fill="#111">5</text>
<text x="62.5" y="406.2" font-size="10" textLength="12.4" lengthAdjust="spacingAndGlyphs" fill="#111">12</text>
<text x="158.5" y="406.2" font-size="10" textLength="22.4" lengthAdjust="spacingAndGlyphs" fill="#111">25/1</text>
<text x="245.5" y="406.2" font-size="10" textLength="6.0" lengthAdjust="spacingAndGlyphs" fill="#111">2</text>
<text x="327.5" y="406.2" font-size="10" textLength="6.0" lengthAdjust="spacingAndGlyphs" fill="#111">3</text>
<text x="419.5" y="406.2" font-size="10" textLength="6.0" lengthAdjust="spacingAndGlyphs" fill="#111">4</text>
<text x="514.5" y="406.2" font-size="10" textLength="6.0" lengthAdjust="spacingAndGlyphs" fill="#111">5</text>
<g shape-rendering="crispEdges"><rect x="11" y="270" width="115" height="42" fill="#eee" fill-opacity="0.9"/><rect x="11" y="269" width="115" height="1" fill="#aaa"/><rect x="125" y="269" width="1" height="43" fill="#aaa"/></g>
<text x="11.3" y="279.5" font-size="12" textLength="35.7" lengthAdjust="spacingAndGlyphs" fill="#2a7a2a">MA(5)</text>
<text x="64.7" y="279.5" font-size="12" textLength="60" lengthAdjust="spacingAndGlyphs" fill="#2a7a2a">37,677.52</text>
<text x="11.3" y="293.2" font-size="12" textLength="43.3" lengthAdjust="spacingAndGlyphs" fill="#ff2a2a">MA(25)</text>
<text x="64.7" y="293.2" font-size="12" textLength="60" lengthAdjust="spacingAndGlyphs" fill="#ff2a2a">35,191.42</text>
<text x="11.3" y="307.0" font-size="12" textLength="43.3" lengthAdjust="spacingAndGlyphs" fill="#3a3aff">MA(75)</text>
<text x="64.7" y="307.0" font-size="12" textLength="60" lengthAdjust="spacingAndGlyphs" fill="#3a3aff">37,063.26</text>
<g shape-rendering="crispEdges"><rect x="11" y="326" width="146" height="12" fill="#eee"/><rect x="11" y="338" width="146" height="1" fill="#aaa"/><rect x="156" y="326" width="1" height="13" fill="#aaa"/></g>
<text x="11.6" y="336" font-size="11.5" style="font-family:'Liberation Sans','Noto Sans CJK JP','IPAGothic',sans-serif" textLength="35" lengthAdjust="spacingAndGlyphs" fill="#2b2ba8">出来高</text>
<text x="57.2" y="336" font-size="12" textLength="86.5" lengthAdjust="spacingAndGlyphs" fill="#2b2ba8">2,260,989,800</text>
<text x="144.5" y="336" font-size="11.5" style="font-family:'Liberation Sans','Noto Sans CJK JP','IPAGothic',sans-serif" fill="#2b2ba8">株</text>
<text x="14.2" y="24.6" font-size="12" style="font-family:'Liberation Sans','Noto Sans CJK JP','IPAGothic',sans-serif" textLength="22.6" lengthAdjust="spacingAndGlyphs" fill="#111">日付</text>
<text x="41.2" y="23.9" font-size="13.5" textLength="83.4" lengthAdjust="spacingAndGlyphs" fill="#111">2025/05/14</text>
<text x="129.6" y="23.9" font-size="13.5" textLength="39" lengthAdjust="spacingAndGlyphs" fill="#111">15:30</text>
<text x="172.2" y="24.6" font-size="12" style="font-family:'Liberation Sans','Noto Sans CJK JP','IPAGothic',sans-serif" textLength="24" lengthAdjust="spacingAndGlyphs" fill="#111">始値</text>
<text x="201.3" y="23.9" font-size="13.5" font-weight="bold" textLength="75" lengthAdjust="spacingAndGlyphs" fill="#111">38,199.03</text>
<text x="280.8" y="24.6" font-size="12" style="font-family:'Liberation Sans','Noto Sans CJK JP','IPAGothic',sans-serif" textLength="24" lengthAdjust="spacingAndGlyphs" fill="#111">高値</text>
<text x="308.2" y="23.9" font-size="13.5" font-weight="bold" textLength="76.8" lengthAdjust="spacingAndGlyphs" fill="#f50000">38,325.88</text>
<text x="389.2" y="24.6" font-size="12" style="font-family:'Liberation Sans','Noto Sans CJK JP','IPAGothic',sans-serif" textLength="24" lengthAdjust="spacingAndGlyphs" fill="#111">安値</text>
<text x="416.6" y="23.9" font-size="13.5" font-weight="bold" textLength="76" lengthAdjust="spacingAndGlyphs" fill="#0a640a">37,851.80</text>
<text x="496.8" y="24.6" font-size="12" style="font-family:'Liberation Sans','Noto Sans CJK JP','IPAGothic',sans-serif" textLength="24" lengthAdjust="spacingAndGlyphs" fill="#111">終値</text>
<text x="524.5" y="23.9" font-size="13.5" font-weight="bold" textLength="75.6" lengthAdjust="spacingAndGlyphs" fill="#111">38,128.13</text>
<path d="M11,448 L11.0,438.6 L12.9,437.9 L14.7,438.3 L16.6,437.8 L18.4,438.1 L20.3,437.7 L22.3,438.2 L24.4,437.5 L26.4,438.6 L28.4,437.7 L30.5,439.2 L32.5,438.2 L34.5,438.1 L36.6,439.5 L38.6,438.6 L40.5,438.4 L42.5,438.9 L44.4,438.1 L46.3,438.3 L48.2,437.2 L50.1,437.9 L52.1,438.2 L54.0,437.4 L56.0,437.0 L58.0,437.0 L60.0,436.2 L61.9,436.7 L63.7,435.8 L65.6,437.2 L67.4,437.1 L69.3,437.1 L71.2,436.9 L73.1,436.6 L75.0,438.3 L76.9,437.8 L78.9,438.4 L80.8,438.9 L82.7,438.8 L84.6,438.6 L86.5,439.2 L88.4,438.2 L90.3,438.8 L92.2,438.1 L94.2,438.8 L96.1,438.6 L98.0,437.1 L99.9,437.7 L101.8,437.0 L103.7,437.0 L105.6,438.3 L107.6,437.3 L109.5,437.6 L111.4,436.9 L113.3,437.2 L115.2,437.1 L117.1,437.1 L119.0,437.2 L120.9,437.8 L122.8,438.0 L124.8,438.8 L126.7,438.6 L128.6,439.2 L130.5,438.6 L132.4,439.2 L134.3,439.5 L136.2,438.9 L138.2,438.0 L140.1,439.2 L142.0,439.4 L143.9,439.3 L145.8,438.6 L147.7,438.5 L149.6,438.6 L151.5,437.5 L153.4,438.4 L155.4,437.8 L157.3,437.1 L159.2,436.5 L161.1,437.1 L163.0,437.8 L164.9,438.2 L166.9,436.7 L168.8,438.1 L170.7,437.5 L172.7,437.1 L174.6,437.5 L176.5,438.0 L178.4,438.3 L180.3,438.3 L182.2,436.6 L184.2,437.5 L186.1,436.2 L188.0,437.3 L189.9,436.4 L191.8,436.5 L193.9,436.8 L195.9,436.6 L197.9,435.4 L200.0,435.0 L201.8,435.4 L203.7,433.7 L205.5,432.7 L207.4,433.2 L209.2,432.5 L211.0,431.4 L212.9,431.4 L214.7,431.4 L216.6,431.5 L218.4,431.0 L220.4,430.5 L222.5,430.5 L224.5,432.1 L226.5,431.3 L228.6,432.6 L230.6,431.9 L232.5,432.7 L234.4,431.8 L236.3,432.1 L238.2,432.2 L240.2,432.5 L242.1,432.5 L244.0,432.5 L245.9,432.5 L247.8,432.6 L249.8,433.1 L251.7,432.3 L253.6,432.1 L255.5,432.5 L257.4,431.6 L259.4,431.6 L261.3,431.9 L263.2,432.8 L265.1,432.1 L267.0,432.2 L269.0,431.3 L270.9,432.1 L272.8,432.5 L274.7,431.6 L276.6,432.5 L278.6,433.0 L280.7,433.2 L282.7,432.5 L284.7,433.7 L286.8,433.7 L288.8,434.0 L290.6,433.9 L292.5,432.9 L294.3,433.1 L296.2,432.7 L298.0,431.9 L300.1,430.9 L302.1,430.8 L304.1,431.8 L306.2,432.1 L308.2,430.7 L310.3,431.0 L312.4,431.0 L314.6,431.3 L316.7,430.9 L318.9,431.0 L321.0,431.3 L323.3,430.0 L325.6,429.4 L327.6,428.9 L329.7,429.1 L331.7,428.3 L333.7,428.2 L335.8,428.6 L337.8,427.9 L339.6,426.4 L341.5,426.8 L343.3,426.5 L345.2,425.1 L347.0,424.8 L349.1,424.3 L351.1,425.3 L353.1,424.3 L355.2,424.2 L357.2,424.7 L359.3,424.8 L361.3,424.7 L363.4,423.1 L365.4,423.3 L367.4,423.4 L369.5,423.8 L371.5,425.2 L373.5,424.9 L375.6,426.0 L377.6,425.8 L379.7,425.0 L381.7,425.2 L383.8,425.6 L385.8,425.8 L387.8,424.9 L389.9,424.8 L391.8,424.3 L393.8,424.1 L395.7,424.9 L397.6,424.2 L399.5,425.4 L401.4,425.4 L403.4,424.2 L405.3,424.8 L407.2,424.1 L409.1,424.8 L411.0,424.3 L413.0,424.3 L414.9,423.2 L416.8,422.6 L418.7,422.6 L420.6,422.7 L422.4,423.6 L424.3,423.1 L426.1,423.7 L428.0,424.2 L429.8,424.8 L431.9,426.4 L433.9,428.1 L436.0,430.0 L438.0,429.8 L440.0,427.4 L442.0,427.0 L443.9,426.3 L445.7,428.2 L447.6,428.2 L449.4,428.6 L451.3,427.9 L453.2,427.3 L455.1,427.7 L457.0,427.1 L458.9,425.8 L460.4,421.8 L463.5,424.8 L465.3,424.4 L467.2,425.4 L469.0,425.7 L470.9,425.5 L472.7,425.3 L474.5,425.0 L476.4,425.2 L478.2,425.1 L480.1,424.9 L481.9,425.8 L483.9,426.0 L486.0,425.4 L488.0,425.8 L488,448 Z" fill="#eee"/>
<path d="M488,448 L488.0,426.3 L490.4,426.9 L492.8,425.6 L495.2,426.5 L497.1,426.7 L499.0,425.7 L500.9,425.6 L502.8,424.3 L505.9,426.1 L508.2,426.1 L510.5,424.6 L512.4,425.9 L514.3,425.8 L516.6,425.5 L518.9,424.1 L521.2,424.6 L523.5,425.8 L525.8,426.1 L527.8,425.4 L529.9,425.5 L531.9,425.8 L534.0,426.3 L536.0,426.3 L538.1,426.5 L540.0,426.7 L541.9,428.1 L543.8,427.9 L545.7,428.1 L548.0,426.8 L550.3,426.1 L552.6,426.7 L554.9,428.1 L557.6,430.7 L560.3,431.9 L563.0,431.3 L565.6,430.7 L567.7,430.5 L569.7,429.0 L571.8,428.5 L573.6,427.7 L575.4,428.1 L577.2,428.3 L579.0,427.5 L579,448 Z" fill="#bcc6f8"/>
<polyline points="11.0,438.6 12.9,437.9 14.7,438.3 16.6,437.8 18.4,438.1 20.3,437.7 22.3,438.2 24.4,437.5 26.4,438.6 28.4,437.7 30.5,439.2 32.5,438.2 34.5,438.1 36.6,439.5 38.6,438.6 40.5,438.4 42.5,438.9 44.4,438.1 46.3,438.3 48.2,437.2 50.1,437.9 52.1,438.2 54.0,437.4 56.0,437.0 58.0,437.0 60.0,436.2 61.9,436.7 63.7,435.8 65.6,437.2 67.4,437.1 69.3,437.1 71.2,436.9 73.1,436.6 75.0,438.3 76.9,437.8 78.9,438.4 80.8,438.9 82.7,438.8 84.6,438.6 86.5,439.2 88.4,438.2 90.3,438.8 92.2,438.1 94.2,438.8 96.1,438.6 98.0,437.1 99.9,437.7 101.8,437.0 103.7,437.0 105.6,438.3 107.6,437.3 109.5,437.6 111.4,436.9 113.3,437.2 115.2,437.1 117.1,437.1 119.0,437.2 120.9,437.8 122.8,438.0 124.8,438.8 126.7,438.6 128.6,439.2 130.5,438.6 132.4,439.2 134.3,439.5 136.2,438.9 138.2,438.0 140.1,439.2 142.0,439.4 143.9,439.3 145.8,438.6 147.7,438.5 149.6,438.6 151.5,437.5 153.4,438.4 155.4,437.8 157.3,437.1 159.2,436.5 161.1,437.1 163.0,437.8 164.9,438.2 166.9,436.7 168.8,438.1 170.7,437.5 172.7,437.1 174.6,437.5 176.5,438.0 178.4,438.3 180.3,438.3 182.2,436.6 184.2,437.5 186.1,436.2 188.0,437.3 189.9,436.4 191.8,436.5 193.9,436.8 195.9,436.6 197.9,435.4 200.0,435.0 201.8,435.4 203.7,433.7 205.5,432.7 207.4,433.2 209.2,432.5 211.0,431.4 212.9,431.4 214.7,431.4 216.6,431.5 218.4,431.0 220.4,430.5 222.5,430.5 224.5,432.1 226.5,431.3 228.6,432.6 230.6,431.9 232.5,432.7 234.4,431.8 236.3,432.1 238.2,432.2 240.2,432.5 242.1,432.5 244.0,432.5 245.9,432.5 247.8,432.6 249.8,433.1 251.7,432.3 253.6,432.1 255.5,432.5 257.4,431.6 259.4,431.6 261.3,431.9 263.2,432.8 265.1,432.1 267.0,432.2 269.0,431.3 270.9,432.1 272.8,432.5 274.7,431.6 276.6,432.5 278.6,433.0 280.7,433.2 282.7,432.5 284.7,433.7 286.8,433.7 288.8,434.0 290.6,433.9 292.5,432.9 294.3,433.1 296.2,432.7 298.0,431.9 300.1,430.9 302.1,430.8 304.1,431.8 306.2,432.1 308.2,430.7 310.3,431.0 312.4,431.0 314.6,431.3 316.7,430.9 318.9,431.0 321.0,431.3 323.3,430.0 325.6,429.4 327.6,428.9 329.7,429.1 331.7,428.3 333.7,428.2 335.8,428.6 337.8,427.9 339.6,426.4 341.5,426.8 343.3,426.5 345.2,425.1 347.0,424.8 349.1,424.3 351.1,425.3 353.1,424.3 355.2,424.2 357.2,424.7 359.3,424.8 361.3,424.7 363.4,423.1 365.4,423.3 367.4,423.4 369.5,423.8 371.5,425.2 373.5,424.9 375.6,426.0 377.6,425.8 379.7,425.0 381.7,425.2 383.8,425.6 385.8,425.8 387.8,424.9 389.9,424.8 391.8,424.3 393.8,424.1 395.7,424.9 397.6,424.2 399.5,425.4 401.4,425.4 403.4,424.2 405.3,424.8 407.2,424.1 409.1,424.8 411.0,424.3 413.0,424.3 414.9,423.2 416.8,422.6 418.7,422.6 420.6,422.7 422.4,423.6 424.3,423.1 426.1,423.7 428.0,424.2 429.8,424.8 431.9,426.4 433.9,428.1 436.0,430.0 438.0,429.8 440.0,427.4 442.0,427.0 443.9,426.3 445.7,428.2 447.6,428.2 449.4,428.6 451.3,427.9 453.2,427.3 455.1,427.7 457.0,427.1 458.9,425.8 460.4,421.8 463.5,424.8 465.3,424.4 467.2,425.4 469.0,425.7 470.9,425.5 472.7,425.3 474.5,425.0 476.4,425.2 478.2,425.1 480.1,424.9 481.9,425.8 483.9,426.0 486.0,425.4 488.0,425.8" fill="none" stroke="#8e8e8e" stroke-width="1.3" stroke-linejoin="round"/>
<polyline points="488.0,426.3 490.4,426.9 492.8,425.6 495.2,426.5 497.1,426.7 499.0,425.7 500.9,425.6 502.8,424.3 505.9,426.1 508.2,426.1 510.5,424.6 512.4,425.9 514.3,425.8 516.6,425.5 518.9,424.1 521.2,424.6 523.5,425.8 525.8,426.1 527.8,425.4 529.9,425.5 531.9,425.8 534.0,426.3 536.0,426.3 538.1,426.5 540.0,426.7 541.9,428.1 543.8,427.9 545.7,428.1 548.0,426.8 550.3,426.1 552.6,426.7 554.9,428.1 557.6,430.7 560.3,431.9 563.0,431.3 565.6,430.7 567.7,430.5 569.7,429.0 571.8,428.5 573.6,427.7 575.4,428.1 577.2,428.3 579.0,427.5" fill="none" stroke="#6a6ab8" stroke-width="1.3" stroke-linejoin="round"/>
<g shape-rendering="crispEdges">
<rect x="131" y="411" width="2" height="37" fill="#fff"/>
<rect x="322" y="411" width="2" height="37" fill="#fff"/>
<rect x="512" y="411" width="2" height="37" fill="#fff"/>
<rect x="487" y="411" width="1" height="37" fill="#0aa0dc"/>
<rect x="579" y="411" width="1" height="37" fill="#0aa0dc"/>
<rect x="579" y="448" width="1" height="10" fill="#000"/>
</g>
<text x="133.5" y="444" font-size="10" fill="#223">23</text>
<text x="324" y="444" font-size="10" fill="#223">24</text>
<text x="512.2" y="444" font-size="10" fill="#223">25</text>
<g shape-rendering="crispEdges">
<rect x="11" y="448" width="568" height="10" fill="url(#gt)"/>
<rect x="10" y="448" width="570" height="1" fill="#000"/>
<rect x="492.5" y="448.5" width="81" height="10" fill="url(#gb)" stroke="#000" stroke-width="1"/>
</g>
<rect x="481.5" y="415.5" width="13" height="29" fill="url(#gh)" stroke="#000" stroke-width="1" shape-rendering="crispEdges"/>
<path d="M490.0,426 L490.0,434 L485.5,430 Z" fill="#000"/>
<rect x="572.5" y="415.5" width="13" height="29" fill="url(#gh)" stroke="#000" stroke-width="1" shape-rendering="crispEdges"/>
<path d="M577.0,426 L577.0,434 L581.5,430 Z" fill="#000"/>
</svg>
</body></html>
